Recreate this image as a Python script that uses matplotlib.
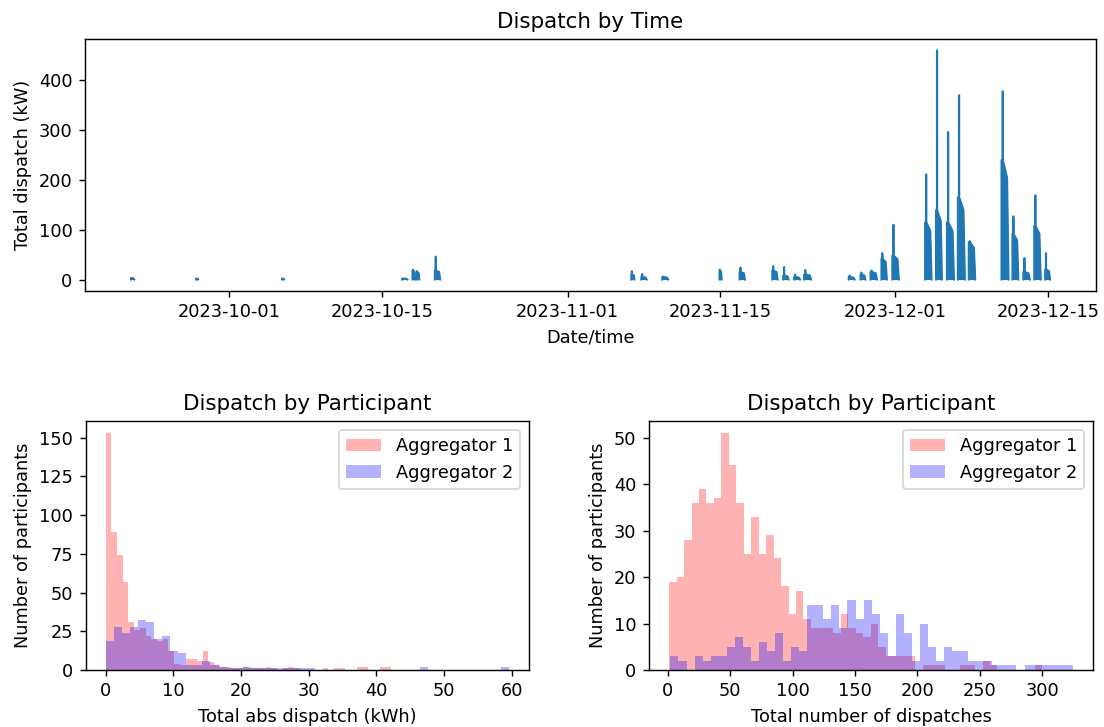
import numpy as np
import matplotlib
matplotlib.use("Agg")
import matplotlib.pyplot as plt
import matplotlib.dates as mdates

# ---- Dispatch events (start time, duration in days, peak kW, sustained kW) ----
event_start = [
    "2023-09-22 00:00", "2023-09-27 23:00", "2023-10-05 20:00", "2023-10-16 20:00",
    "2023-10-17 19:00", "2023-10-18 04:00", "2023-10-19 20:00",
    "2023-11-06 20:00", "2023-11-07 18:00", "2023-11-09 16:00", "2023-11-14 22:00",
    "2023-11-16 18:00", "2023-11-19 18:00", "2023-11-20 18:00", "2023-11-21 18:00",
    "2023-11-22 16:00", "2023-11-26 18:00", "2023-11-27 20:00", "2023-11-28 18:00",
    "2023-11-29 18:00", "2023-11-30 18:00",
    "2023-12-03 18:00", "2023-12-04 18:00", "2023-12-05 18:00", "2023-12-06 18:00",
    "2023-12-07 18:00", "2023-12-10 18:00", "2023-12-11 18:00", "2023-12-12 18:00",
    "2023-12-13 18:00", "2023-12-14 18:00",
]
event_days = [
    0.3, 0.2, 0.2, 0.5,
    0.25, 0.25, 0.5,
    0.3, 0.5, 0.55, 0.2,
    0.5, 0.5, 0.5, 0.55,
    0.65, 0.55, 0.45, 0.6,
    0.5, 0.6,
    0.6, 0.55, 0.65, 0.65,
    0.6, 0.65, 0.55, 0.6,
    0.6, 0.45,
]
event_peak = [
    3, 2, 2, 2,
    20, 17, 46,
    17, 11, 6, 20,
    24, 27, 25, 10,
    19, 8, 14, 18,
    53, 110,
    211, 460, 296, 370,
    77, 378, 127, 43,
    169, 53,
]
event_level = [
    3, 2, 2, 2,
    18, 15, 18,
    10, 5, 5, 18,
    15, 18, 8, 5,
    10, 5, 10, 15,
    42, 48,
    115, 139, 115, 165,
    75, 240, 92, 15,
    108, 20,
]

# ---- Per-participant histograms (counts per bin, 50 bins each) ----
abs_bins_agg1 = (0.0, 42.2)
abs_counts_agg1 = [
    153, 89, 74, 57, 31, 26, 27, 22, 20, 19,
    20, 12, 4, 3, 7, 7, 6, 12, 5, 3,
    2, 2, 1, 1, 2, 1, 1, 1, 2, 1,
    0, 1, 2, 1, 0, 0, 0, 0, 1, 0,
    1, 1, 0, 0, 2, 2, 0, 0, 2, 2,
]
abs_bins_agg2 = (0.0, 59.6)
abs_counts_agg2 = [
    19, 28, 24, 28, 32, 31, 20, 22, 12, 11,
    3, 3, 6, 3, 2, 1, 1, 2, 1, 1,
    1, 1, 1, 1, 1, 1, 0, 0, 0, 0,
    0, 0, 0, 0, 0, 0, 0, 0, 0, 2,
    0, 0, 0, 0, 0, 0, 0, 0, 0, 2,
]
num_bins_agg1 = (1.0, 300.0)
num_counts_agg1 = [
    19, 20, 28, 36, 39, 36, 37, 51, 44, 36,
    25, 33, 25, 29, 24, 18, 12, 17, 11, 9,
    9, 9, 8, 12, 9, 8, 7, 10, 5, 3,
    3, 3, 3, 0, 1, 1, 1, 0, 0, 1,
    1, 0, 2, 1, 0, 0, 0, 0, 0, 1,
]
num_bins_agg2 = (2.0, 324.5)
num_counts_agg2 = [
    3, 2, 0, 3, 2, 3, 3, 5, 7, 5,
    2, 6, 4, 8, 2, 5, 4, 14, 14, 11,
    14, 9, 15, 11, 15, 12, 8, 3, 12, 8,
    2, 10, 5, 2, 5, 4, 4, 2, 2, 2,
    1, 1, 1, 0, 1, 1, 1, 1, 1, 1,
]
series_labels = ["Aggregator 1", "Aggregator 2"]

DPI = 128
fig = plt.figure(figsize=(1104 / DPI, 727 / DPI), dpi=DPI)
W, H = 1104, 727


def place(left, top, right, bottom):
    return fig.add_axes([left / W, 1 - bottom / H, (right - left) / W, (bottom - top) / H])


# ---- Dispatch by time ----
ax_t = place(85, 39, 1096, 291)
frac_x = np.array([0.0, 0.0, 0.15, 0.15, 0.2, 0.2, 0.8, 1.0])
for start, days, peak, level in zip(event_start, event_days, event_peak, event_level):
    x0 = mdates.date2num(np.datetime64(start.replace(" ", "T")))
    xs = x0 + days * frac_x
    ys = np.array([0, level, level, peak, peak, level, level * 0.85, 0], dtype=float)
    ax_t.fill_between(xs, ys, color="C0", lw=0)
    ax_t.plot(xs, ys, color="C0", lw=1.1)
ax_t.xaxis_date()
ax_t.xaxis.set_major_locator(mdates.DayLocator(bymonthday=[1, 15]))
ax_t.xaxis.set_major_formatter(mdates.DateFormatter("%Y-%m-%d"))
ax_t.set_title("Dispatch by Time")
ax_t.set_xlabel("Date/time")
ax_t.set_ylabel("Total dispatch (kW)")


def hist_pair(ax, rng1, c1, rng2, c2):
    for rng, counts, color, label in ((rng1, c1, "red", series_labels[0]),
                                      (rng2, c2, "blue", series_labels[1])):
        edges = np.linspace(rng[0], rng[1], len(counts) + 1)
        centers = 0.5 * (edges[:-1] + edges[1:])
        ax.hist(centers, bins=edges, weights=counts, color=color, alpha=0.3, label=label)
    ax.set_title("Dispatch by Participant")
    ax.set_ylabel("Number of participants")
    ax.legend(loc="upper right")


ax_a = place(85.5, 421, 529, 670)
hist_pair(ax_a, abs_bins_agg1, abs_counts_agg1, abs_bins_agg2, abs_counts_agg2)
ax_a.set_xlabel("Total abs dispatch (kWh)")

ax_n = place(649, 421, 1093, 670)
hist_pair(ax_n, num_bins_agg1, num_counts_agg1, num_bins_agg2, num_counts_agg2)
ax_n.set_xlabel("Total number of dispatches")

fig.savefig("out.png", dpi=DPI)
